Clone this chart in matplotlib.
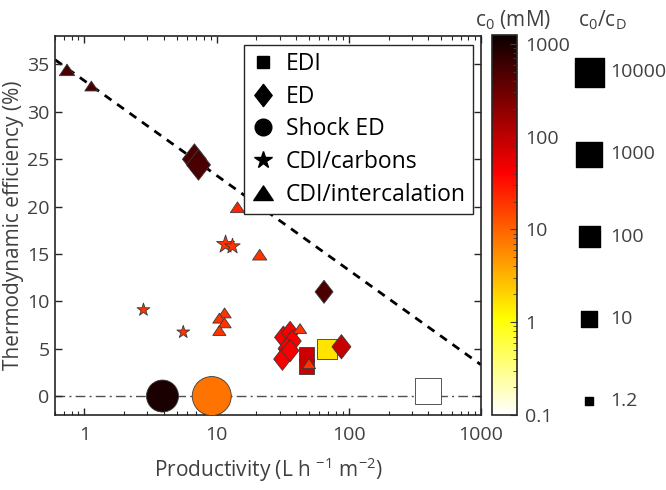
import numpy as np
import matplotlib.pyplot as plt
from matplotlib.colors import LogNorm
from matplotlib.path import Path
from matplotlib.lines import Line2D

plt.rcParams['font.family'] = ['Open Sans', 'DejaVu Sans']
plt.rcParams['mathtext.fontset'] = 'custom'
plt.rcParams['mathtext.rm'] = 'Open Sans'
plt.rcParams['mathtext.it'] = 'Open Sans:italic'
plt.rcParams['mathtext.default'] = 'regular'

# EDI (squares)
edi_x = [68, 48, 48, 400]
edi_y = [5.0, 4.4, 3.1, 0.5]
edi_c0 = [1.6, 80, 80, 0.1]
edi_ratio = [63, 8, 8, 1500]

# ED (diamonds)
ed_x = [6.8, 7.3, 65, 88, 32, 36, 37.5, 34, 31.5, 36]
ed_y = [25.0, 24.4, 11.0, 5.2, 6.2, 6.7, 5.8, 5.0, 3.9, 4.8]
ed_c0 = [500, 500, 500, 90, 45, 45, 45, 45, 45, 45]
ed_ratio = [480, 480, 26, 40, 22, 22, 22, 22, 22, 22]

# Shock ED (circles)
sh_x = [3.9, 9.2]
sh_y = [0, 0]
sh_c0 = [1000, 8]
sh_ratio = [670, 20000]

# CDI/carbons (stars)
cc_x = [11.7, 13.2, 2.8, 5.6]
cc_y = [16.0, 15.8, 9.1, 6.75]
cc_c0 = [20, 20, 20, 20]
cc_ratio = [6, 3.3, 2, 2]

# CDI/intercalation (triangles)
ci_x = [0.74, 1.13, 14.4, 21.2, 11.5, 10.5, 11.5, 10.5, 42.8, 50]
ci_y = [34.4, 32.7, 19.9, 14.9, 8.75, 8.2, 7.7, 6.9, 7.1, 3.4]
ci_c0 = [500, 500, 25, 20, 20, 20, 20, 20, 20, 20]
ci_ratio = [6, 3.3, 4.4, 4.4, 3.3, 3.3, 3.3, 3.3, 3.3, 3.3]

# thermodynamic limit line
limit_x = [0.6, 1000]
limit_y = [35.5, 3.3]

# size legend
legend_ratio = [1.2, 10, 100, 1000, 10000]
legend_labels = ['1.2', '10', '100', '1000', '10000']

cmap = plt.get_cmap('hot_r')
norm = LogNorm(vmin=0.1, vmax=1250)

diamond = Path([(0, 0.64), (0.5, 0), (0, -0.64), (-0.5, 0), (0, 0.64)],
               [Path.MOVETO, Path.LINETO, Path.LINETO, Path.LINETO, Path.CLOSEPOLY])
triangle = Path([(-0.5, -0.36), (0.5, -0.36), (0, 0.39), (-0.5, -0.36)],
                [Path.MOVETO, Path.LINETO, Path.LINETO, Path.CLOSEPOLY])


def size_pts(ratio, k=1.0):
    # marker width grows with the log of c0/cD
    w = np.sqrt(40 + 200 * np.log10(np.array(ratio, dtype=float)))
    return (w * 0.72 * k) ** 2


fig = plt.figure(figsize=(6.66, 4.9), dpi=100)
ax = fig.add_axes([55 / 666, 75 / 490, 426 / 666, 379 / 490])

ax.axhline(0, color='#505050', lw=1.0, ls=(0, (7, 3, 1.5, 3)), zorder=1)
ax.plot(limit_x, limit_y, color='k', lw=2, ls=(0, (3, 2.5)), zorder=1)

edge = dict(edgecolors='#3a3a3a', linewidths=0.6, cmap=cmap, norm=norm, zorder=3)
ax.scatter(sh_x, sh_y, s=size_pts(sh_ratio, 1.3), c=sh_c0, marker='o', **edge)
ax.scatter(edi_x, edi_y, s=size_pts(edi_ratio), c=edi_c0, marker='s', **edge)
ax.scatter(ed_x, ed_y, s=size_pts(ed_ratio, 1.28), c=ed_c0, marker=diamond, **edge)
ax.scatter(cc_x, cc_y, s=size_pts(cc_ratio, 1.35), c=cc_c0, marker='*', **edge)
ax.scatter(ci_x, ci_y, s=size_pts(ci_ratio, 1.1), c=ci_c0, marker=triangle, **edge)

ax.set_xscale('log')
ax.set_xlim(0.6, 1000)
ax.set_ylim(-2, 38)
ax.set_yticks([0, 5, 10, 15, 20, 25, 30, 35])
ax.set_xticks([1, 10, 100, 1000])
ax.set_xticklabels(['1', '10', '100', '1000'])
ax.tick_params(which='both', direction='in', top=True, right=True,
               labelsize=14, labelcolor='#404040', color='#262626')
ax.tick_params(axis='x', pad=8)
ax.tick_params(axis='y', pad=4)
ax.tick_params(which='major', length=5, width=1)
ax.tick_params(which='minor', length=3, width=0.8)
for sp in ax.spines.values():
    sp.set_linewidth(1.2)
    sp.set_color('#262626')
ax.set_xlabel('Productivity (L h $^{-1}$ m$^{-2}$)', fontsize=15, color='#404040', labelpad=8)
ax.set_ylabel('Thermodynamic efficiency (%)', fontsize=15, color='#404040', labelpad=2)

handles = [
    Line2D([], [], ls='none', marker='s', color='k', markersize=9),
    Line2D([], [], ls='none', marker=diamond, color='k', markersize=16),
    Line2D([], [], ls='none', marker='o', color='k', markersize=12),
    Line2D([], [], ls='none', marker='*', color='k', markersize=13),
    Line2D([], [], ls='none', marker=triangle, color='k', markersize=14),
]
labels = ['EDI', 'ED', 'Shock ED', 'CDI/carbons', 'CDI/intercalation']
leg = ax.legend(handles, labels, loc='upper left', bbox_to_anchor=(0.443, 0.976),
                fontsize=16.5, frameon=True, fancybox=False, framealpha=1,
                edgecolor='#262626', borderpad=0.3, labelspacing=0.38,
                handletextpad=0.45, handlelength=1.1, borderaxespad=0)
leg.get_frame().set_linewidth(1.0)

# colorbar
cax = fig.add_axes([492 / 666, 75 / 490, 25 / 666, 380 / 490])
sm = plt.cm.ScalarMappable(cmap=cmap, norm=norm)
cb = fig.colorbar(sm, cax=cax)
cb.set_ticks([0.1, 1, 10, 100, 1000])
cb.set_ticklabels(['0.1', '1', '10', '100', '1000'])
cax.tick_params(which='both', direction='in', right=True, left=False,
                labelsize=14, labelcolor='#404040', color='#404040', pad=6)
cax.tick_params(which='major', length=5)
cax.tick_params(which='minor', length=3)
cb.outline.set_linewidth(1.2)
cb.outline.set_edgecolor('#262626')
fig.text(513 / 666, 1 - 20 / 490, 'c$_0$ (mM)', fontsize=15, color='#404040',
         ha='center', va='center')

# size legend for c0/cD
sax = fig.add_axes([560 / 666, 75 / 490, 106 / 666, 380 / 490])
sax.set_xlim(0, 1)
sax.set_ylim(-0.17, 4.45)
sax.axis('off')
pos = np.arange(len(legend_ratio))
sax.scatter(np.full(len(pos), 0.274), pos, s=size_pts(legend_ratio), marker='s', color='k')
for p, lab in zip(pos, legend_labels):
    sax.text(0.47, p, lab, fontsize=14, color='#404040', va='center', ha='left')
fig.text(602 / 666, 1 - 20 / 490, 'c$_0$/c$_D$', fontsize=15, color='#404040',
         ha='center', va='center')

fig.savefig('out.png', dpi=100)
